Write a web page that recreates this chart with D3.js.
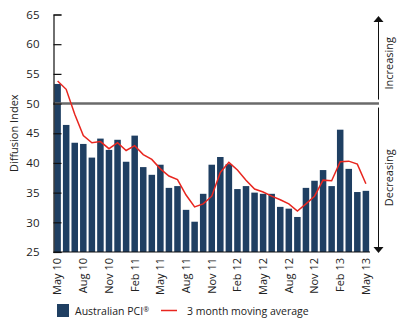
<!DOCTYPE html>
<html>
<head>
<meta charset="utf-8">
<script src="https://unpkg.com/d3@7/dist/d3.min.js"></script>
<style>
  body { margin: 0; background: #fff; }
  svg { display: block; font-family: "Open Sans", "DejaVu Sans", sans-serif; }
</style>
</head>
<body>
<script>
// data
const months = [
  "May 10", "Jun 10", "Jul 10", "Aug 10", "Sep 10", "Oct 10", "Nov 10", "Dec 10",
  "Jan 11", "Feb 11", "Mar 11", "Apr 11", "May 11", "Jun 11", "Jul 11", "Aug 11",
  "Sep 11", "Oct 11", "Nov 11", "Dec 11", "Jan 12", "Feb 12", "Mar 12", "Apr 12",
  "May 12", "Jun 12", "Jul 12", "Aug 12", "Sep 12", "Oct 12", "Nov 12", "Dec 12",
  "Jan 13", "Feb 13", "Mar 13", "Apr 13", "May 13"
];
const pciValues = [
  53.3, 46.4, 43.4, 43.2, 40.9, 44.1, 42.2, 43.9, 40.2, 44.6,
  39.3, 38.0, 39.7, 35.8, 36.1, 32.1, 30.1, 34.8, 39.7, 41.0,
  39.8, 35.6, 36.1, 35.0, 34.8, 34.8, 32.6, 32.3, 30.9, 35.8,
  37.0, 38.8, 36.1, 45.6, 39.0, 35.1, 35.3
];
const movingAvg = [
  53.8, 52.4, 48.2, 44.6, 43.4, 43.6, 42.4, 43.4, 42.1, 42.9,
  41.4, 40.6, 39.0, 37.8, 37.2, 34.6, 32.6, 33.1, 34.4, 38.4,
  40.1, 38.8, 37.1, 35.6, 35.1, 34.4, 33.8, 33.1, 31.9, 33.1,
  34.4, 37.1, 37.0, 40.2, 40.3, 39.8, 36.5
];
const yTicks = [25, 30, 35, 40, 45, 50, 55, 60, 65];
const threshold = 50;
const legendLabels = ["Australian PCI", "3 month moving average"];

// layout
const width = 407;
const height = 333;
const plotLeft = 53.5;
const plotRight = 370;
const plotTop = 14.5;
const plotBottom = 252;

const barColor = "#1f3f62";
const lineColor = "#e8261f";

const svg = d3.select("body").append("svg")
  .attr("width", width)
  .attr("height", height);

const x = d3.scaleBand()
  .domain(d3.range(months.length))
  .range([plotLeft, plotRight])
  .paddingInner(0.24)
  .paddingOuter(0.1);

const y = d3.scaleLinear()
  .domain([25, 65])
  .range([plotBottom, plotTop]);

// bars
svg.append("g")
  .selectAll("rect")
  .data(pciValues)
  .enter()
  .append("rect")
  .attr("x", (d, i) => x(i))
  .attr("y", d => y(d))
  .attr("width", x.bandwidth())
  .attr("height", d => y(25) - y(d))
  .attr("fill", barColor);

// 50 reference line
svg.append("line")
  .attr("x1", plotLeft)
  .attr("x2", 379)
  .attr("y1", y(threshold))
  .attr("y2", y(threshold))
  .attr("stroke", "#6a6a6a")
  .attr("stroke-width", 2.5);

// moving average
const line = d3.line()
  .x((d, i) => x(i) + x.bandwidth() / 2)
  .y(d => y(d));

svg.append("path")
  .datum(movingAvg)
  .attr("d", line)
  .attr("fill", "none")
  .attr("stroke", lineColor)
  .attr("stroke-width", 1.5);

// y axis
const yAxis = d3.axisLeft(y)
  .tickValues(yTicks)
  .tickSize(-8)
  .tickPadding(14);

const yg = svg.append("g")
  .attr("transform", `translate(${plotLeft},0)`)
  .call(yAxis);
yg.select(".domain").attr("stroke", "#111").attr("stroke-width", 1.2);
yg.selectAll(".tick line").attr("stroke", "#111").attr("stroke-width", 1.2);
yg.selectAll(".tick text")
  .attr("font-size", 11.5)
  .attr("fill", "#222")
  .attr("font-family", "Open Sans, sans-serif");

// x axis
const xAxis = d3.axisBottom(x)
  .tickValues(d3.range(0, months.length, 3))
  .tickFormat(i => months[i])
  .tickSize(0)
  .tickPadding(0);

const xg = svg.append("g")
  .attr("transform", `translate(0,${plotBottom})`)
  .call(xAxis);
xg.select(".domain").attr("stroke", "#111").attr("stroke-width", 1.2)
  .attr("d", `M${plotLeft},0H${plotRight}`);
xg.selectAll(".tick text")
  .attr("font-size", 11)
  .attr("fill", "#222")
  .attr("font-family", "Open Sans, sans-serif")
  .attr("text-anchor", "end")
  .attr("dy", "0.35em")
  .attr("transform", "translate(0,6) rotate(-90)");

// y title
svg.append("text")
  .attr("transform", `translate(18,${(plotTop + plotBottom) / 2}) rotate(-90)`)
  .attr("text-anchor", "middle")
  .attr("font-size", 11)
  .attr("fill", "#222")
  .text("Diffusion Index");

// right side arrows
const ax = 378.5;
svg.append("line")
  .attr("x1", ax).attr("x2", ax)
  .attr("y1", 19).attr("y2", y(threshold) - 4)
  .attr("stroke", "#111").attr("stroke-width", 1);
svg.append("line")
  .attr("x1", ax).attr("x2", ax)
  .attr("y1", y(threshold) + 4).attr("y2", 248)
  .attr("stroke", "#111").attr("stroke-width", 1);
svg.append("path")
  .attr("d", `M${ax - 5},22L${ax},16L${ax + 5},22Z`)
  .attr("fill", "#111");
svg.append("path")
  .attr("d", `M${ax - 5},247L${ax},253L${ax + 5},247Z`)
  .attr("fill", "#111");

svg.append("text")
  .attr("transform", `translate(393,${(19 + y(threshold)) / 2 + 2}) rotate(-90)`)
  .attr("text-anchor", "middle")
  .attr("font-size", 11)
  .attr("fill", "#222")
  .text("Increasing");
svg.append("text")
  .attr("transform", `translate(393,${(y(threshold) + 248) / 2 + 2}) rotate(-90)`)
  .attr("text-anchor", "middle")
  .attr("font-size", 11)
  .attr("fill", "#222")
  .text("Decreasing");

// legend
const legend = svg.append("g").attr("transform", "translate(57,304)");
legend.append("rect")
  .attr("x", 0).attr("y", 0)
  .attr("width", 12).attr("height", 13)
  .attr("fill", barColor);
const legText = legend.append("text")
  .attr("x", 18).attr("y", 10.5)
  .attr("font-size", 10.5)
  .attr("fill", "#222")
  .text(legendLabels[0]);
legText.append("tspan")
  .attr("font-size", 7)
  .attr("dy", -3)
  .text("\u00AE");
legend.append("line")
  .attr("x1", 104).attr("x2", 120)
  .attr("y1", 6.5).attr("y2", 6.5)
  .attr("stroke", lineColor)
  .attr("stroke-width", 1.5);
legend.append("text")
  .attr("x", 130).attr("y", 10.5)
  .attr("font-size", 10.5)
  .attr("fill", "#222")
  .text(legendLabels[1]);
</script>
</body>
</html>
